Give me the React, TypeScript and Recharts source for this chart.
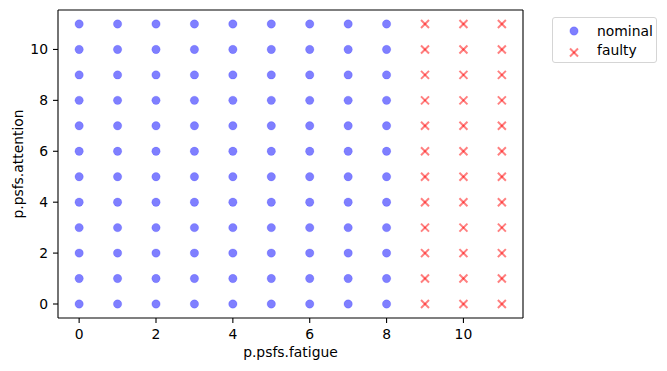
import React from 'react';
import {
  ScatterChart, Scatter, XAxis, YAxis, Label, ReferenceLine,
} from 'recharts';

// levels on each axis
const nominalFatigue = [0, 1, 2, 3, 4, 5, 6, 7, 8];
const faultyFatigue = [9, 10, 11];
const attentionLevels = [0, 1, 2, 3, 4, 5, 6, 7, 8, 9, 10, 11];
const xTicks = [0, 2, 4, 6, 8, 10];
const yTicks = [0, 2, 4, 6, 8, 10];

const domain: [number, number] = [-0.55, 11.55];

const FONT = '"DejaVu Sans", sans-serif';
const BLUE = '#0000ff';
const RED = '#ff0000';

// every fatigue/attention combination that was tried
const buildPoints = (fatigue: number[]) =>
  fatigue.flatMap((f) => attentionLevels.map((a) => ({ fatigue: f, attention: a })));

const nominalData = buildPoints(nominalFatigue);
const faultyData = buildPoints(faultyFatigue);

const Dot = (props: any) => {
  const { cx, cy } = props;
  return <circle cx={cx} cy={cy} r={4.2} fill={BLUE} fillOpacity={0.5} stroke={BLUE} strokeOpacity={0.15} strokeWidth={1} />;
};

const Cross = (props: any) => {
  const { cx, cy } = props;
  const d = 4;
  return (
    <g stroke={RED} strokeOpacity={0.5} strokeWidth={2}>
      <line x1={cx - d} y1={cy - d} x2={cx + d} y2={cy + d} />
      <line x1={cx - d} y1={cy + d} x2={cx + d} y2={cy - d} />
    </g>
  );
};

const tickStyle = { fontSize: 13.9, fontFamily: FONT, fill: '#000' };
const lineStyle = { stroke: '#000', strokeWidth: 1.1 };

const LegendBox = () => (
  <div
    style={{
      position: 'absolute', left: 552, top: 17, width: 103, height: 44,
      border: '1px solid #d5d5d5', borderRadius: 3, background: '#fff',
    }}
  >
    <svg width={103} height={44} style={{ display: 'block' }}>
      <Dot cx={21} cy={13} />
      <text x={44} y={18} fontSize={13.9} fontFamily={FONT} fill="#000">nominal</text>
      <Cross cx={21} cy={34.5} />
      <text x={44} y={36.5} fontSize={13.9} fontFamily={FONT} fill="#000">faulty</text>
    </svg>
  </div>
);

export default function App() {
  return (
    <div style={{ position: 'absolute', left: 0, top: 0, width: 667, height: 371, background: '#fff' }}>
      <ScatterChart width={667} height={371} margin={{ top: 10, right: 144, left: 0, bottom: 0 }}>
        <XAxis
          type="number" dataKey="fatigue" domain={domain} ticks={xTicks} allowDataOverflow
          height={53} tick={tickStyle} tickSize={5} tickMargin={6}
          axisLine={lineStyle} tickLine={lineStyle}
        >
          <Label value="p.psfs.fatigue" position="insideBottom" offset={14}
            style={{ fontSize: 13.9, fontFamily: FONT, fill: '#000' }} />
        </XAxis>
        <YAxis
          type="number" dataKey="attention" domain={domain} ticks={yTicks} allowDataOverflow
          width={58} tick={tickStyle} tickSize={5} tickMargin={5}
          axisLine={lineStyle} tickLine={lineStyle}
        >
          <Label value="p.psfs.attention" angle={-90} position="insideLeft" offset={18}
            style={{ fontSize: 13.9, fontFamily: FONT, fill: '#000', textAnchor: 'middle' }} />
        </YAxis>
        {/* close the frame on the top and right */}
        <ReferenceLine y={domain[1]} stroke="#000" strokeWidth={1.1} />
        <ReferenceLine x={domain[1]} stroke="#000" strokeWidth={1.1} />
        <Scatter name="nominal" data={nominalData} shape={Dot} isAnimationActive={false} />
        <Scatter name="faulty" data={faultyData} shape={Cross} isAnimationActive={false} />
      </ScatterChart>
      <LegendBox />
    </div>
  );
}
